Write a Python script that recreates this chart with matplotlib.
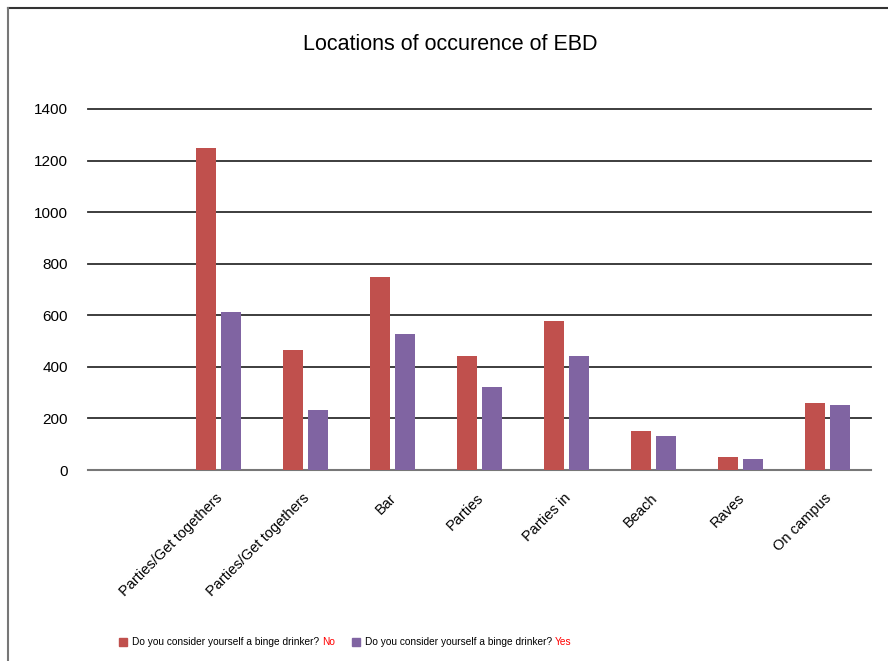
import numpy as np
import matplotlib
matplotlib.use("Agg")
import matplotlib.pyplot as plt
import matplotlib.transforms as mtransforms
from matplotlib.lines import Line2D
from matplotlib.patches import Rectangle

plt.rcParams['font.family'] = ['Liberation Sans', 'DejaVu Sans']

# data
categories = ['', 'Parties/Get togethers', 'Parties/Get togethers', 'Bar', 'Parties',
              'Parties in', 'Beach', 'Raves', 'On campus']
binge_no = [0, 1250, 466, 748, 442, 578, 151, 50, 260]
binge_yes = [0, 614, 233, 527, 322, 442, 132, 43, 252]
y_ticks = [0, 200, 400, 600, 800, 1000, 1200, 1400]

red = '#C0504D'
purple = '#8064A2'

fig = plt.figure(figsize=(8.88, 6.61), dpi=100)
ax = fig.add_axes([88 / 888, 1 - 470 / 661, (871 - 88) / 888, (470 - 109) / 661])

x = np.arange(len(categories))
w = 0.23
ax.bar(x - 0.138, binge_no, width=w, color=red, zorder=3)
ax.bar(x + 0.138, binge_yes, width=w, color=purple, zorder=3)

ax.set_xlim(-0.5, len(categories) - 0.5)
ax.set_ylim(0, 1400)
ax.set_yticks(y_ticks)
ax.set_yticklabels([str(v) for v in y_ticks], fontsize=11)
for v in y_ticks[1:]:
    ax.axhline(v, color='#2e2e2e', lw=1.3, zorder=1, clip_on=False)

for s in ['top', 'right', 'left']:
    ax.spines[s].set_visible(False)
ax.spines['bottom'].set_color('#777777')
ax.spines['bottom'].set_linewidth(1.5)
ax.tick_params(axis='y', length=0, pad=14.5)
ax.tick_params(axis='x', length=0, pad=15)

ax.set_xticks(x)
ax.set_xticklabels(categories, fontsize=10.5, rotation=45, ha='right', va='top',
                   rotation_mode='anchor')
shift = mtransforms.ScaledTranslation(-3 / 100, 0, fig.dpi_scale_trans)
for lbl in ax.get_xticklabels():
    lbl.set_transform(lbl.get_transform() + shift)

fig.text(450 / 888, 1 - 44 / 661, 'Locations of occurence of EBD', fontsize=15.5,
         ha='center', va='center')

# frame lines around the chart area
fig.add_artist(Line2D([8 / 888, 1], [1 - 8 / 661, 1 - 8 / 661], color='#333333', lw=1.5,
                      transform=fig.transFigure))
fig.add_artist(Line2D([8 / 888, 8 / 888], [0, 1 - 8 / 661], color='#777777', lw=1.5,
                      transform=fig.transFigure))

# legend with the answer part in red
fig.canvas.draw()
renderer = fig.canvas.get_renderer()
leg_y = 1 - 642 / 661
leg_font = dict(fontsize=7.3, va='center')
entries = [(119, red, 'Do you consider yourself a binge drinker? ', 'No'),
           (352, purple, 'Do you consider yourself a binge drinker? ', 'Yes')]
for px, col, txt, ans in entries:
    fig.add_artist(Rectangle((px / 888, 1 - 646 / 661), 8 / 888, 8 / 661,
                             color=col, transform=fig.transFigure))
    t = fig.text((px + 13) / 888, leg_y, txt, **leg_font)
    bb = t.get_window_extent(renderer)
    fig.text(bb.x1 / 888, leg_y, ans, color='#ff0000', **leg_font)

fig.savefig('out.png', dpi=100)
